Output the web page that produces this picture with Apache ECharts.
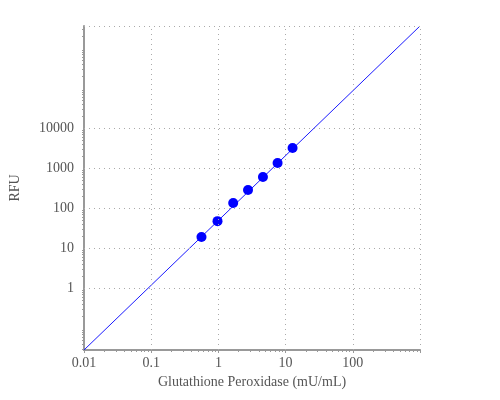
<!DOCTYPE html>
<html>
<head>
<meta charset="utf-8">
<script src="https://cdn.jsdelivr.net/npm/echarts@6/dist/echarts.min.js"></script>
<style>html,body{margin:0;padding:0;background:#fff}#chart{width:500px;height:400px}</style>
</head>
<body>
<div id="chart"></div>
<script>
// 测量点
var xVals = [0.56, 0.97, 1.66, 2.76, 4.6, 7.6, 12.7];
var yVals = [18.8, 47, 133, 282, 596, 1334, 3162];
// 拟合线两端
var fitX = [0.01, 1000];
var fitY = [0.0282, 3550000];
var yLabels = [1, 10, 100, 1000, 10000];
var xGrid = [0.1, 1, 10, 100, 1000];

var chart = echarts.init(document.getElementById('chart'));
var gray = '#999';
var txt = {color: '#555', fontFamily: 'Liberation Serif', fontSize: 14};
var gridStyle = {color: '#aaa', type: [1, 4], width: 1};

var pts = xVals.map(function(x, i) { return [x, yVals[i]]; });
var hLines = yLabels.concat([fitY[1]]).map(function(v) { return {yAxis: v}; });
var vLines = xGrid.map(function(v) { return {xAxis: v}; });

chart.setOption({
    animation: false,
    grid: {left: 80, right: 80, top: 26, bottom: 50},
    xAxis: {
        type: 'log',
        min: fitX[0],
        max: fitX[1],
        name: 'Glutathione Peroxidase (mU/mL)',
        nameLocation: 'middle',
        nameGap: 22,
        nameTextStyle: txt,
        axisLine: {lineStyle: {color: gray, width: 2}},
        axisTick: {show: true, length: 3, lineStyle: {color: gray}},
        minorTick: {show: true, splitNumber: 9, length: 2, lineStyle: {color: gray}},
        axisLabel: Object.assign({margin: 6, formatter: function(v) { return v >= 1000 ? '' : String(v); }}, txt),
        splitLine: {show: false}
    },
    yAxis: {
        type: 'log',
        min: fitY[0],
        max: fitY[1],
        name: 'RFU',
        nameLocation: 'middle',
        nameGap: 62,
        nameTextStyle: txt,
        axisLine: {lineStyle: {color: gray, width: 2}},
        axisTick: {show: false},
        minorTick: {show: true, splitNumber: 9, length: 2, lineStyle: {color: gray}},
        axisLabel: Object.assign({margin: 10, formatter: function(v) {
            var r = Math.round(v);
            return (yLabels.indexOf(r) >= 0 && Math.abs(v - r) < 1e-6 * r) ? String(r) : '';
        }}, txt),
        splitLine: {show: false}
    },
    series: [{
        type: 'line',
        data: [[fitX[0], fitY[0]], [fitX[1], fitY[1]]],
        symbol: 'none',
        lineStyle: {color: '#1a1aff', width: 1},
        markLine: {
            silent: true,
            symbol: 'none',
            label: {show: false},
            lineStyle: gridStyle,
            data: hLines.concat(vLines)
        },
        z: 2
    }, {
        type: 'scatter',
        data: pts,
        symbolSize: 10,
        itemStyle: {color: '#0000ff', opacity: 1},
        z: 3
    }]
});
</script>
</body>
</html>
